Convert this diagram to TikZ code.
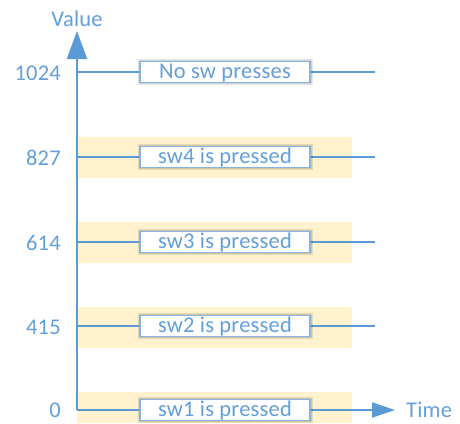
\documentclass[tikz,border=0pt]{standalone}
\usepackage{fontspec}
\setmainfont{Carlito}[LetterSpace=1]
\usetikzlibrary{arrows.meta}
\definecolor{lblue}{HTML}{5B9BD5}
\definecolor{tblue}{HTML}{639FD9}
\definecolor{bandcol}{HTML}{FFF2CC}
\definecolor{bbord}{HTML}{86B4E2}
\begin{document}
\begin{tikzpicture}[x=1pt,y=-1pt,
  font=\fontsize{22.5}{26}\selectfont,
  axisline/.style={draw=lblue, line width=2pt},
  valbox/.style={draw=bbord, line width=1.4pt, fill=white, minimum width=170pt,
    minimum height=21pt, inner sep=0pt, text height=15pt, text depth=2pt, text=tblue,
    preaction={draw=black, draw opacity=0.10, line width=5pt},
    preaction={draw=black, draw opacity=0.08, line width=3pt}},
  ylab/.style={anchor=base east, text=tblue, inner sep=0pt},
  band/.style={fill=bandcol}
]
\useasboundingbox (0,0) rectangle (460,423);
% bands
\fill[band] (77,137) rectangle (352,178);
\fill[band] (77,222) rectangle (352,263);
\fill[band] (77,307) rectangle (352,348);
\fill[band] (77,392) rectangle (352,423);
% axes
\coordinate (o) at (77,410);
\coordinate (ytop) at (77,31);
\coordinate (xend) at (395,410);
\draw[axisline, -{Triangle[width=20pt,length=28pt]}] (o) -- (ytop);
\draw[axisline, -{Triangle[width=15pt,length=23pt]}] (o) -- (xend);
\node[anchor=base, text=tblue, inner sep=0pt] (vlab) at (77,26) {Value};
\node[anchor=base west, text=tblue, inner sep=0pt] (tlab) at (406,417) {Time};
% levels
\foreach \v/\y in {1024/72, 827/157, 614/242, 415/326}{
  \coordinate (s\v) at (77,\y);
  \coordinate (e\v) at (375,\y);
  \draw[axisline] (s\v) -- (e\v);
}
\node[ylab] (l1024) at (61,80) {1024};
\node[ylab] (l827) at (61,165) {827};
\node[ylab] (l614) at (61,250) {614};
\node[ylab] (l415) at (61,334) {415};
\node[ylab] (l0) at (61,417) {0};
\node[valbox] (b1024) at (225,72) {No sw presses};
\node[valbox] (b827) at (225,157) {sw4 is pressed};
\node[valbox] (b614) at (225,242) {sw3 is pressed};
\node[valbox] (b415) at (225,326) {sw2 is pressed};
\node[valbox] (b0) at (225,410) {sw1 is pressed};
\end{tikzpicture}
\end{document}
